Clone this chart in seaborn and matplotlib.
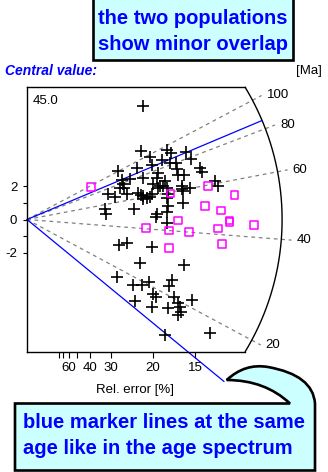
import numpy as np
import matplotlib
matplotlib.use("Agg")
import matplotlib.pyplot as plt
import seaborn as sns
from matplotlib.path import Path
from matplotlib.patches import PathPatch, Rectangle

sns.set_theme(style="white")
plt.rcParams['font.family'] = ['Liberation Sans', 'DejaVu Sans']

# ---------------- data ----------------
central_age = 45.0
age_ticks = [20, 40, 60, 80, 100]          # Ma, radial scale
marker_ages = [85, 13]                     # Ma, blue marker lines
relerr_ticks = [80, 70, 60, 50, 40, 30, 20, 15]
relerr_labels = [60, 40, 30, 20, 15]
y_ticks = [-2, 0, 2]
y_minor = [-1, 1]

# population 1 (crosses): precision (1/sigma) and standardized estimate
pop1_x = [4.59, 4.54, 4.86, 4.96, 4.38, 5.56, 5.71, 5.36, 5.67, 5.91, 5.95, 6.01, 6.23, 6.51, 6.31, 6.87, 6.93, 7.44, 7.59,
          3.62, 3.76, 4.09, 4.62, 5.14, 5.21, 5.46, 3.80, 3.69, 3.85, 5.01, 5.21, 5.41, 5.54, 5.28, 6.14, 6.20, 6.14, 6.47,
          3.23, 3.49, 3.96, 4.42, 4.51, 4.62, 4.75, 4.88, 4.95, 4.62, 5.61, 5.54, 5.61, 6.18,
          3.08, 3.12, 4.26, 5.16, 5.12, 5.54, 5.54,
          3.66, 3.96, 4.95, 4.48, 6.23, 3.56, 5.74,
          4.19, 4.56, 4.85, 5.62, 5.01, 5.12, 5.83, 4.27, 4.94, 5.98, 6.54, 5.61, 6.07, 5.99, 6.11, 7.26, 5.46]
pop1_y = [6.78, 4.09, 3.74, 3.29, 3.10, 4.19, 4.01, 3.59, 3.40, 3.40, 3.05, 2.69, 2.69, 3.65, 4.05, 3.10, 2.87, 2.29, 1.99,
          2.90, 2.37, 2.40, 2.49, 2.51, 2.80, 2.28, 2.14, 1.90, 1.90, 2.10, 1.90, 1.99, 1.90, 1.99, 1.99, 1.69, 1.80, 1.90,
          1.50, 1.35, 1.50, 1.60, 1.46, 1.38, 1.30, 1.34, 1.50, 1.20, 1.54, 1.30, 0.80, 1.00,
          0.60, 0.30, 0.60, 0.30, 0.15, 0.45, -0.21,
          -1.50, -1.40, -1.65, -2.59, -2.72, -3.47, -3.62,
          -3.93, -3.92, -3.74, -4.01, -4.45, -4.67, -4.64, -4.88, -5.24, -5.00, -4.83, -5.29, -5.27, -5.72, -5.54, -6.77, -6.89]

# population 2 (squares)
pop2_x = [2.53, 4.71, 5.63, 5.63, 5.70, 5.98, 6.42, 7.06, 7.19, 7.57, 7.69, 7.73, 8.03, 8.03, 8.23, 9.01]
pop2_y = [1.95, -0.50, -0.66, -1.71, 1.56, -0.06, -0.76, 0.80, 1.99, -0.53, 0.53, -1.45, -0.16, -0.07, 1.48, -0.34]

# ---------------- layout ----------------
W, H = 328, 472
fig = plt.figure(figsize=(W / 100, H / 100), dpi=100)
fig.patch.set_facecolor("white")
ax_l, ax_t, ax_r, ax_b = 27, 87.3, 300, 351.7
ax = fig.add_axes([ax_l / W, 1 - ax_b / H, (ax_r - ax_l) / W, (ax_b - ax_t) / H])
x_max, y_max = 10.83, 7.92
ax.set_xlim(0, x_max)
ax.set_ylim(-y_max, y_max)
ax.set_facecolor("white")

# radial arc (ellipse in data units = circle on screen)
rx, ry = 10.12, 15.28
th_max = np.arcsin(y_max / ry)
th = np.linspace(-th_max, th_max, 200)
ax.plot(rx * np.cos(th), ry * np.sin(th), color="black", lw=1.0, clip_on=False, zorder=2)
x_edge = rx * np.cos(th_max)

def arc_x(s):
    return 1.0 / np.sqrt(1 / rx ** 2 + s ** 2 / ry ** 2)

# age lines
for t in age_ticks:
    s = np.log(t / central_age)
    xe = arc_x(s) * 1.04
    ax.plot([0, xe], [0, s * xe], color="#808080", lw=0.9, ls=(0, (3, 3)),
            clip_on=False, zorder=1)
    ax.text(xe + 0.2, s * xe, f"{t}", ha="left", va="center", fontsize=9.5, color="black",
            clip_on=False)

for t in marker_ages:
    s = np.log(t / central_age)
    xe = arc_x(s)
    ax.plot([0, xe], [0, s * xe], color="#0000ff", lw=0.9, clip_on=False, zorder=2)

# data points
sns.scatterplot(x=pop1_x, y=pop1_y, marker="+", color="black", s=85, linewidth=1.2,
                ax=ax, zorder=3, legend=False)
sns.scatterplot(x=pop2_x, y=pop2_y, marker="s", facecolor="none", edgecolor="#ff00ff",
                s=30, linewidth=1.1, ax=ax, zorder=4, legend=False)

# spines
for side in ["left", "top", "bottom"]:
    ax.spines[side].set_visible(True)
    ax.spines[side].set_color("black")
    ax.spines[side].set_linewidth(1.0)
ax.spines["right"].set_visible(False)
ax.spines["top"].set_bounds(0, x_edge)
ax.spines["bottom"].set_bounds(0, x_edge)

# x ticks (relative error)
ax.set_xticks([100.0 / r for r in relerr_ticks])
ax.set_xticklabels([str(r) if r in relerr_labels else "" for r in relerr_ticks])
ax.tick_params(axis="x", bottom=True, top=False, direction="out", length=4.3, width=0.8,
               pad=3, labelsize=9.5, colors="black")
ax.set_xlabel("Rel. error [%]", fontsize=9.5, color="black")
ax.xaxis.set_label_coords((135 - ax_l) / (ax_r - ax_l), (ax_b - 390) / (ax_b - ax_t))
ax.xaxis.label.set_va("center")

# y ticks
ax.set_yticks(y_ticks)
ax.set_yticklabels([str(v) for v in y_ticks])
ax.set_yticks(y_minor, minor=True)
ax.tick_params(axis="y", which="both", left=True, right=False, direction="out", length=3,
               width=0.8, pad=4, labelsize=9.5, colors="black")

# ---------------- overlay annotations ----------------
ov = fig.add_axes([0, 0, 1, 1], zorder=5)
ov.set_xlim(0, W)
ov.set_ylim(H, 0)
ov.axis("off")
ov.patch.set_visible(False)

cyan = "#ccffff"
blue = "#0000ff"
ov.add_patch(Rectangle((93, -5), 200, 65, facecolor=cyan, edgecolor="black", lw=1.9))
ov.text(192.5, 19, "the two populations", ha="center", va="center", fontsize=14.5,
        fontweight="bold", color=blue)
ov.text(192.5, 45, "show minor overlap", ha="center", va="center", fontsize=14.5,
        fontweight="bold", color=blue)

verts = [(15, 403.5), (290, 403.5), (265, 380), (226.7, 380), (245, 363), (268, 367),
         (313, 375), (315, 403.5), (315, 470.5), (15, 470.5), (15, 403.5)]
codes = [Path.MOVETO, Path.LINETO, Path.CURVE3, Path.CURVE3, Path.CURVE3, Path.CURVE3,
         Path.CURVE3, Path.CURVE3, Path.LINETO, Path.LINETO, Path.CLOSEPOLY]
ov.add_patch(PathPatch(Path(verts, codes), facecolor=cyan, edgecolor="black", lw=1.9))
ov.text(23, 423, "blue marker lines at the same", ha="left", va="center", fontsize=14.5,
        fontweight="bold", color=blue)
ov.text(23, 448, "age like in the age spectrum", ha="left", va="center", fontsize=14.5,
        fontweight="bold", color=blue)

ov.text(5, 71, "Central value:", ha="left", va="center", fontsize=10, fontweight="bold",
        fontstyle="italic", color=blue)
ov.text(322, 71, "[Ma]", ha="right", va="center", fontsize=9.5, color="black")
ov.text(33, 101, f"{central_age:.1f}", ha="left", va="center", fontsize=9.5, color="black")

fig.savefig("out.png", dpi=100)
